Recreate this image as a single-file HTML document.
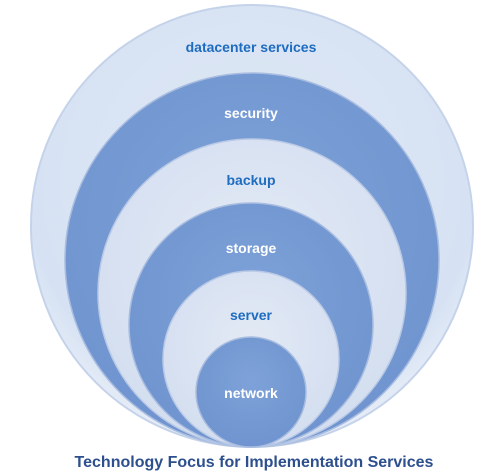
<!DOCTYPE html>
<html><head><style>
html,body{margin:0;padding:0;background:#fff;width:500px;height:475px;overflow:hidden}
svg{display:block}
text{font-family:"Liberation Sans",sans-serif;font-weight:bold;text-anchor:middle}
</style></head><body>
<svg width="500" height="475" viewBox="0 0 500 475">
<defs>
<radialGradient id="lt" cx="50%" cy="40%" r="60%">
<stop offset="0" stop-color="#e3eaf5"/><stop offset="1" stop-color="#d3def0"/></radialGradient>
<radialGradient id="lt0" cx="50%" cy="40%" r="60%">
<stop offset="0" stop-color="#dfe8f6"/><stop offset="0.85" stop-color="#d6e2f3"/><stop offset="1" stop-color="#e8eef8"/></radialGradient>
<radialGradient id="dk" cx="50%" cy="40%" r="60%">
<stop offset="0" stop-color="#7ea2d8"/><stop offset="1" stop-color="#6f94cf"/></radialGradient>
</defs>
<circle cx="252" cy="226" r="221" fill="url(#lt0)" stroke="#c5d3ea" stroke-width="2"/>
<circle cx="252" cy="260" r="187" fill="url(#dk)" stroke="#a9bde0" stroke-width="1.5"/>
<circle cx="252" cy="293" r="154" fill="url(#lt)" stroke="#b9c9e6" stroke-width="1.5"/>
<circle cx="251" cy="325" r="122" fill="url(#dk)" stroke="#a9bde0" stroke-width="1.5"/>
<circle cx="251" cy="359" r="88" fill="url(#lt)" stroke="#b9c9e6" stroke-width="1.5"/>
<circle cx="251" cy="392" r="55" fill="url(#dk)" stroke="#a9bde0" stroke-width="1.5"/>
<g font-size="14">
<text x="251" y="52" fill="#1e6cc0">datacenter services</text>
<text x="251" y="118" fill="#fff">security</text>
<text x="251" y="185" fill="#1e6cc0">backup</text>
<text x="251" y="253" fill="#fff">storage</text>
<text x="251" y="320" fill="#1e6cc0">server</text>
<text x="251" y="398" fill="#fff">network</text>
</g>
<text x="254" y="467" font-size="16" fill="#2d4f8e">Technology Focus for Implementation Services</text>
</svg>
</body></html>
